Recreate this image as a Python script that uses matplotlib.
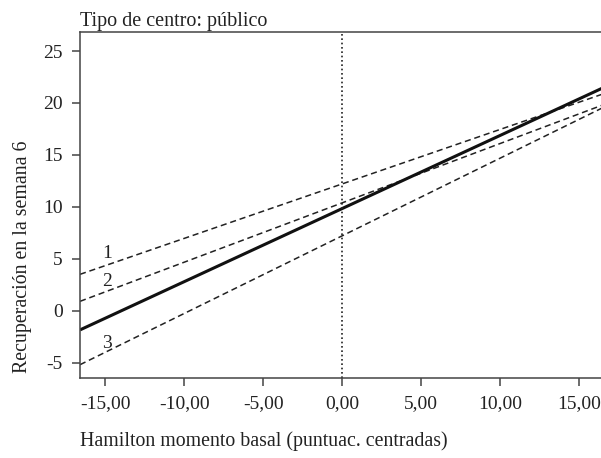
import matplotlib
matplotlib.use("Agg")
import matplotlib.pyplot as plt
from matplotlib.ticker import FuncFormatter

plt.rcParams['font.family'] = ['Liberation Serif', 'DejaVu Serif']
plt.rcParams['axes.unicode_minus'] = False

# data: lines read at the left and right edges of the plot
x_ends = [-16.6, 16.6]
y_media = [-1.85, 21.5]          # recta media (bold)
y_centros = [[3.5, 20.9],        # centro 1
             [0.9, 19.85],       # centro 2
             [-5.2, 19.6]]       # centro 3
etiquetas = ['1', '2', '3']
etiq_x = [-14.9, -14.9, -14.9]
etiq_y = [5.5, 2.8, -3.2]
xticks = [-15, -10, -5, 0, 5, 10, 15]
yticks = [-5, 0, 5, 10, 15, 20, 25]

gris = '#444444'
fig = plt.figure(figsize=(6.01, 4.58), dpi=100)
W, H = 601, 458
ax = fig.add_axes([80 / W, 1 - 378 / H, (604 - 80) / W, (378 - 32) / H])

for ys in y_centros:
    ax.plot(x_ends, ys, color='#222222', lw=1.1, linestyle=(0, (4, 2.5)))
ax.plot(x_ends, y_media, color='#111111', lw=2.2, solid_capstyle='butt')
ax.axvline(0, color='#222222', lw=1.2, linestyle=(0, (1, 1.6)))

for t, tx, ty in zip(etiquetas, etiq_x, etiq_y):
    ax.text(tx, ty, t, ha='center', va='center', fontsize=14, color='#222222')

ax.set_xlim(-16.6, 16.6)
ax.set_ylim(-6.48, 26.83)
ax.set_xticks(xticks)
ax.set_yticks(yticks)
ax.xaxis.set_major_formatter(FuncFormatter(lambda v, p: f"{v:.2f}".replace('.', ',')))
ax.yaxis.set_major_formatter(FuncFormatter(lambda v, p: f"{v:.0f}"))

ax.spines['right'].set_visible(False)
for s in ['left', 'top', 'bottom']:
    ax.spines[s].set_color(gris)
    ax.spines[s].set_linewidth(1.1)
ax.tick_params(axis='both', length=5.8, width=1.1, color=gris, labelsize=14,
               labelcolor='#222222', pad=6.5)

ax.set_title('Tipo de centro: público', loc='left', fontsize=14.5,
             color='#222222', pad=4)
ax.set_xlabel('Hamilton momento basal (puntuac. centradas)', loc='left',
              fontsize=14.3, color='#222222')
ax.xaxis.set_label_coords(0.0, -0.155)
ax.set_ylabel('Recuperación en la semana 6', loc='bottom', fontsize=14.3,
              color='#222222')
ax.yaxis.set_label_coords(-0.092, 0.014)

fig.savefig('out.png', dpi=100)
